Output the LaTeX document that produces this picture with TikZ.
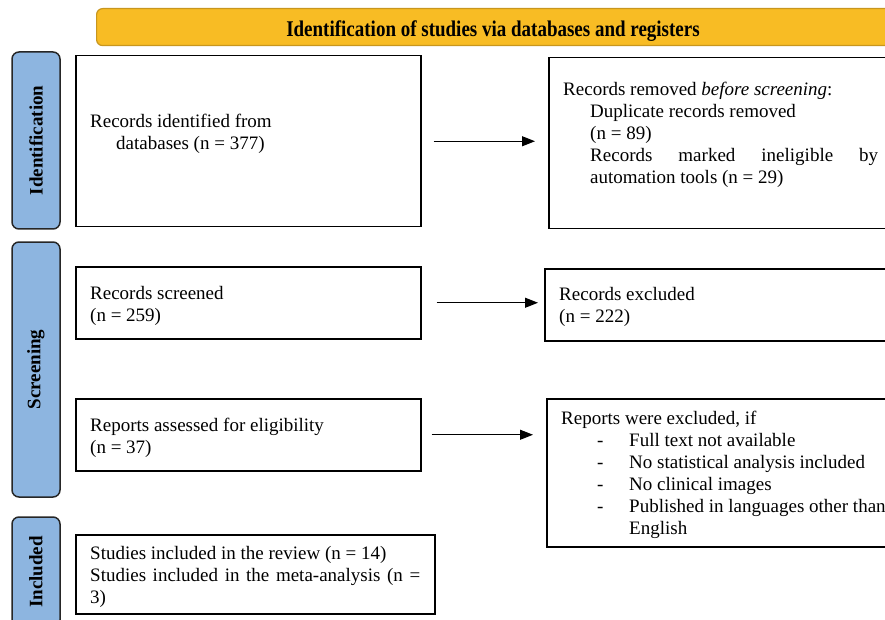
\documentclass[tikz,border=0pt]{standalone}
\usepackage{fontspec}
\setmainfont{Liberation Serif}
\usetikzlibrary{arrows.meta}
\definecolor{bannerfill}{HTML}{F8BC24}
\definecolor{bannerdraw}{HTML}{C8961E}
\definecolor{sidefill}{HTML}{8DB5E0}
\begin{document}
\begin{tikzpicture}[x=1pt,y=-1pt,
  body/.style={font=\fontsize{19}{22}\selectfont},
  box/.style={draw=black, line width=1.5pt, fill=white, anchor=north west, inner sep=0pt},
  txt/.style={body, anchor=north west, inner sep=0pt, align=left},
  side/.style={draw=black!85, line width=1.5pt, fill=sidefill, rounded corners=7pt, rotate=90,
     font=\fontsize{19}{22}\selectfont\bfseries, inner sep=0pt},
  arr/.style={line width=1pt, -{Triangle[length=13pt,width=10pt]}}
]
\useasboundingbox (0,0) rectangle (885,620);

% banner
\node[draw=bannerdraw, line width=1.2pt, fill=bannerfill, rounded corners=6pt, anchor=north west,
      minimum width=796pt, minimum height=37pt, inner sep=0pt] (banner) at (96,8) {};
\node[font=\fontsize{19}{22}\selectfont\bfseries, anchor=base, inner sep=0pt] (title) at (493,36.5)
  {\scalebox{1}[1.18]{Identification of studies via databases and registers}};

% side bars
\node[side, minimum width=177pt, minimum height=48pt] (sideId) at (36,140.5) {Identification};
\node[side, minimum width=255pt, minimum height=48pt] (sideSc) at (36,369.5) {Screening};
\node[side, minimum width=110pt, minimum height=48pt] (sideIn) at (36,572) {Included};

% boxes
\node[box, minimum width=345pt, minimum height=171pt] (ident) at (75,55) {};
\node[box, minimum width=350pt, minimum height=171pt] (removed) at (548,57) {};
\node[box, minimum width=345pt, minimum height=72pt] (screened) at (75,266) {};
\node[box, minimum width=355pt, minimum height=72pt] (excluded) at (544,268) {};
\node[box, minimum width=345pt, minimum height=72pt] (assessed) at (75,398) {};
\node[box, minimum width=355pt, minimum height=148pt] (repexcl) at (546,398) {};
\node[box, minimum width=359pt, minimum height=79pt] (included) at (75,534) {};

% texts
\node[txt] (identT) at (90,114) {Records identified from\\\hspace*{26pt}databases (n = 377)};
\node[txt] (removedT) at (563,82) {Records removed \textit{before screening}:\\
  \hspace*{27pt}Duplicate records removed\\
  \hspace*{27pt}(n = 89)\\
  \hspace*{27pt}\makebox[288pt][s]{Records\hfill marked\hfill ineligible\hfill by}\\
  \hspace*{27pt}automation tools (n = 29)};
\node[txt] (screenedT) at (90,286) {Records screened\\(n = 259)};
\node[txt] (excludedT) at (559,287) {Records excluded\\(n = 222)};
\node[txt] (assessedT) at (90,418) {Reports assessed for eligibility\\(n = 37)};
\node[txt] (repexclT) at (561,411) {Reports were excluded, if\\
  \makebox[68pt][l]{\hspace*{36pt}-}Full text not available\\
  \makebox[68pt][l]{\hspace*{36pt}-}No statistical analysis included\\
  \makebox[68pt][l]{\hspace*{36pt}-}No clinical images\\
  \makebox[68pt][l]{\hspace*{36pt}-}Published in languages other than\\
  \hspace*{68pt}English};
\node[txt] (includedT) at (90,546) {Studies included in the review (n = 14)\\
  \makebox[330pt][s]{Studies\hfill included\hfill in\hfill the\hfill meta-analysis\hfill (n\hfill =}\\
  3)};

% arrows
\draw[arr] ([xshift=12pt]ident.east) -- ([xshift=-13pt]removed.west |- ident.east);
\draw[arr] ([xshift=15pt]screened.east) -- ([xshift=-6pt]excluded.west |- screened.east);
\draw[arr] ([xshift=10pt]assessed.east) -- ([xshift=-13pt]repexcl.west |- assessed.east);
\end{tikzpicture}
\end{document}
